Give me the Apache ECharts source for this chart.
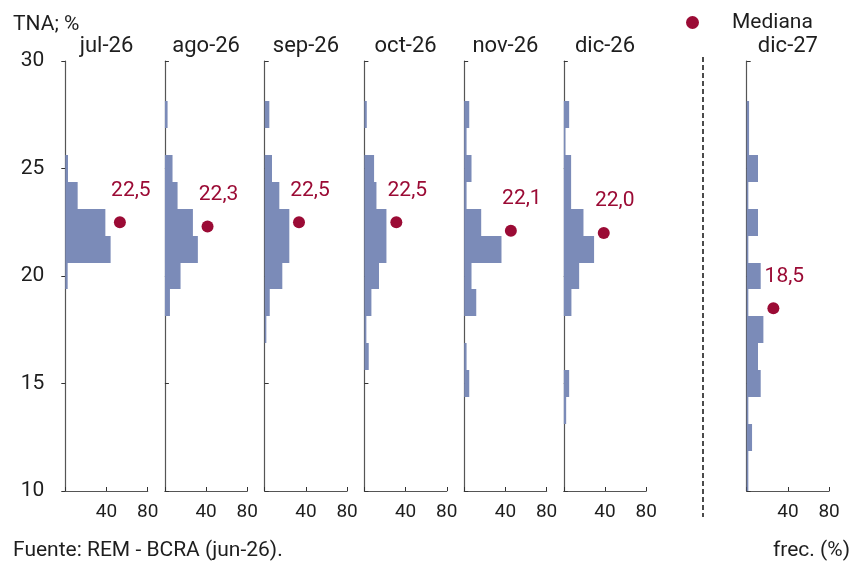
<!DOCTYPE html>
<html><head><meta charset="utf-8">
<script src="https://cdn.jsdelivr.net/npm/echarts@6/dist/echarts.min.js"></script>
<style>html,body{margin:0;padding:0;background:#fff}#c{width:852px;height:564px}</style>
</head><body><div id="c"></div>
<script>
// ---- data ----
const panels = ['jul-26', 'ago-26', 'sep-26', 'oct-26', 'nov-26', 'dic-26', 'dic-27'];
const binWidth = 1.25;
const binCenters = [27.5, 26.25, 25, 23.75, 22.5, 21.25, 20, 18.75, 17.5, 16.25, 15, 13.75, 12.5, 11.25, 10];
const freqJul26 = [0, 0, 2.6, 12, 38.9, 44, 2.3, 0, 0, 0, 0, 0, 0, 0, 0];
const freqAgo26 = [2.6, 0, 7.4, 12.3, 27.2, 32, 15.2, 4.9, 0, 0, 0, 0, 0, 0, 0];
const freqSep26 = [4.5, 0, 7.1, 14.2, 23.9, 23.9, 17.1, 4.9, 1.6, 0, 0, 0, 0, 0, 0];
const freqOct26 = [2.3, 0, 9.4, 11.7, 21.4, 21.4, 14.2, 6.8, 1.9, 4.2, 0, 0, 0, 0, 0];
const freqNov26 = [4.9, 2.3, 7.1, 2.3, 16.5, 36.2, 7.1, 11.7, 0, 2.3, 4.9, 0, 0, 0, 0];
const freqDic26 = [5.2, 1.6, 7.1, 7.1, 19.1, 29.4, 14.9, 7.4, 0, 0, 5.2, 2.3, 0, 0, 0];
const freqDic27 = [2.3, 2.3, 11, 1.6, 11, 1.6, 13.6, 1.6, 16.2, 11, 13.6, 1.6, 5.2, 1.6, 1.6];
const medians = [22.5, 22.3, 22.5, 22.5, 22.1, 22.0, 18.5];
const medianFreqPos = [53, 41.4, 33.3, 31, 45.3, 38.8, 25.9];
const yTicks = [10, 15, 20, 25, 30];
const xTicks = [0, 40, 80];

const freqs = [freqJul26, freqAgo26, freqSep26, freqOct26, freqNov26, freqDic26, freqDic27];

// ---- layout ----
const gridLeft = [65.3, 164.9, 264.7, 364.4, 464.2, 563.8, 746.7];
const gridTop = 61, gridW = 82.4, gridH = 430;
const FONT = 'Roboto';
const TXT = '#1e1e1e';
const RED = '#9B0B35';
const BAR = '#7B8BB8';

const grids = [], xAxes = [], yAxes = [], series = [], graphics = [];

function renderBar(params, api) {
  const f = api.value(0), c = api.value(1);
  const p0 = api.coord([0, c + binWidth / 2]);
  const p1 = api.coord([f, c - binWidth / 2]);
  const cs = params.coordSys;
  const y0 = Math.round(p0[1]), y1 = Math.round(p1[1]);
  const r = echarts.graphic.clipRectByRect(
    { x: p0[0], y: y0, width: p1[0] - p0[0], height: y1 - y0 },
    { x: cs.x, y: cs.y, width: cs.width, height: cs.height });
  return r && { type: 'rect', shape: r, style: { fill: BAR } };
}

function txt(text, x, y, size, align) {
  return { type: 'text', x: x, y: y,
    style: { text: text, font: size + 'px ' + FONT, fill: TXT, align: align, verticalAlign: 'middle',
      textAlign: align, textVerticalAlign: 'middle' } };
}

panels.forEach((name, i) => {
  grids.push({ left: gridLeft[i], top: gridTop, width: gridW, height: gridH, containLabel: false });
  xAxes.push({
    gridIndex: i, type: 'value', min: xTicks[0], max: xTicks[xTicks.length - 1], interval: 40,
    axisLine: { show: true, lineStyle: { color: '#555', width: 1.2 } },
    axisTick: { show: true, inside: true, length: 4, lineStyle: { color: '#333' } },
    splitLine: { show: false },
    axisLabel: { show: true, margin: 12, fontFamily: FONT, fontSize: 19, color: TXT,
      formatter: v => v === 0 ? '' : String(v) }
  });
  yAxes.push({
    gridIndex: i, type: 'value', min: yTicks[0], max: yTicks[yTicks.length - 1], interval: 5,
    axisLine: { show: true, lineStyle: { color: '#555', width: 1.2 } },
    axisTick: { show: true, inside: i !== 0, length: 4, lineStyle: { color: '#333' } },
    splitLine: { show: false },
    axisLabel: { show: i === 0, margin: 21, fontFamily: FONT, fontSize: 21, color: TXT }
  });
  const data = [];
  freqs[i].forEach((f, k) => { if (f > 0) data.push([f, binCenters[k]]); });
  series.push({
    type: 'custom', name: 'freq-' + name, xAxisIndex: i, yAxisIndex: i,
    renderItem: renderBar, encode: { x: 0, y: 1 }, data: data, silent: true
  });
  series.push({
    type: 'scatter', name: 'Mediana', xAxisIndex: i, yAxisIndex: i, z: 5,
    symbol: 'circle', symbolSize: 12, itemStyle: { color: RED, opacity: 1 },
    data: [[medianFreqPos[i], medians[i]]],
    label: { show: true, position: 'inside', offset: [11, -32],
      formatter: p => p.value[1].toFixed(1).replace('.', ','),
      fontFamily: FONT, fontSize: 21, color: RED, opacity: 1 }
  });
  graphics.push(txt(name, gridLeft[i] + gridW / 2, 46, 22, 'center'));
});

graphics.push(txt('TNA; %', 13, 25, 21, 'left'));
graphics.push(txt('Fuente: REM - BCRA (jun-26).', 13, 551, 21, 'left'));
graphics.push(txt('frec. (%)', 773, 551, 21, 'left'));
graphics.push({ type: 'line', shape: { x1: 703, y1: 57, x2: 703, y2: 517 },
  style: { stroke: '#111', lineWidth: 1.5, lineDash: [5, 3] } });

const chart = echarts.init(document.getElementById('c'), null, { renderer: 'canvas' });
chart.setOption({
  animation: false,
  backgroundColor: '#fff',
  textStyle: { fontFamily: FONT },
  legend: {
    data: ['Mediana'], left: 686, top: 12, icon: 'circle', itemWidth: 13, itemHeight: 13,
    itemGap: 0, padding: 0, selectedMode: false,
    itemStyle: { opacity: 1 },
    textStyle: { fontFamily: FONT, fontSize: 21, color: TXT, padding: [0, 0, 0, 28] }
  },
  grid: grids, xAxis: xAxes, yAxis: yAxes, series: series, graphic: graphics
});
</script>
</body></html>
